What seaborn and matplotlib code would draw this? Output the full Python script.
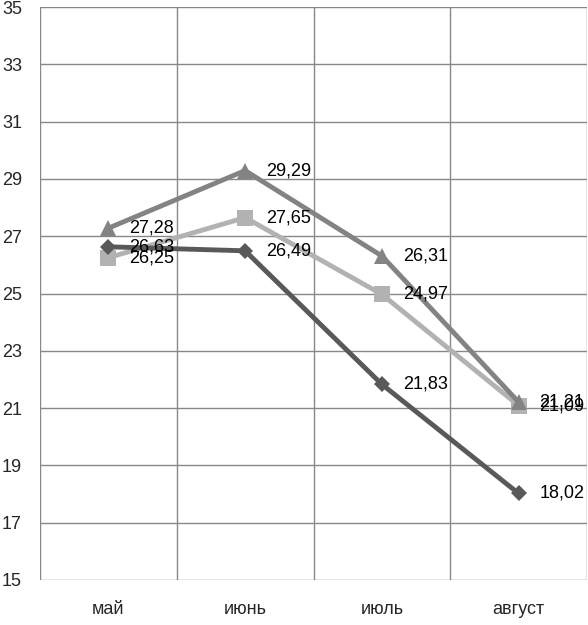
import matplotlib
matplotlib.use("Agg")
import matplotlib.pyplot as plt
import seaborn as sns
import pandas as pd

months = ["май", "июнь", "июль", "август"]
series_a = [26.63, 26.49, 21.83, 18.02]   # ромбы
series_b = [26.25, 27.65, 24.97, 21.09]   # квадраты
series_c = [27.28, 29.29, 26.31, 21.21]   # треугольники
yticks = list(range(15, 36, 2))

df = pd.DataFrame({
    "month": months * 3,
    "value": series_b + series_a + series_c,
    "series": ["b"] * 4 + ["a"] * 4 + ["c"] * 4,
})

sns.set_style("white")
plt.rcParams['font.family'] = ['Liberation Sans', 'DejaVu Sans']

fig = plt.figure(figsize=(5.88, 6.25), dpi=100)
ax = fig.add_axes([40 / 588, 45 / 625, 547 / 588, 573 / 625])

palette = {"a": "#595959", "b": "#b2b2b2", "c": "#838383"}
markers = {"a": "D", "b": "s", "c": "^"}
sizes = {"a": 8, "b": 11, "c": 11}

for key in ["b", "a", "c"]:
    sub = df[df["series"] == key]
    sns.lineplot(data=sub, x="month", y="value", color=palette[key],
                 marker=markers[key], markersize=sizes[key], markeredgewidth=0,
                 linewidth=3.5, ax=ax, sort=False)
    for i, v in enumerate(sub["value"]):
        ax.annotate(f"{v:.2f}".replace(".", ","), (i, v), xytext=(15, 0),
                    textcoords="offset points", va="center", ha="left",
                    fontsize=13, color="black")

ax.set_xlim(-0.5, 3.5)
ax.set_ylim(15, 35)
ax.set_yticks(yticks)
ax.set_yticklabels([str(t) for t in yticks], fontsize=13)
ax.set_xticks(range(4))
ax.set_xticklabels(months, fontsize=13)
ax.tick_params(axis="x", length=0, pad=15)
ax.tick_params(axis="y", length=0, pad=13)
ax.set_xlabel("")
ax.set_ylabel("")

for t in yticks:
    ax.axhline(t, color="#888888", linewidth=1, zorder=0)
for x in [-0.5, 0.5, 1.5, 2.5, 3.5]:
    ax.axvline(x, color="#888888", linewidth=1, zorder=0)
for s in ax.spines.values():
    s.set_visible(False)

fig.savefig("out.png", dpi=100)
